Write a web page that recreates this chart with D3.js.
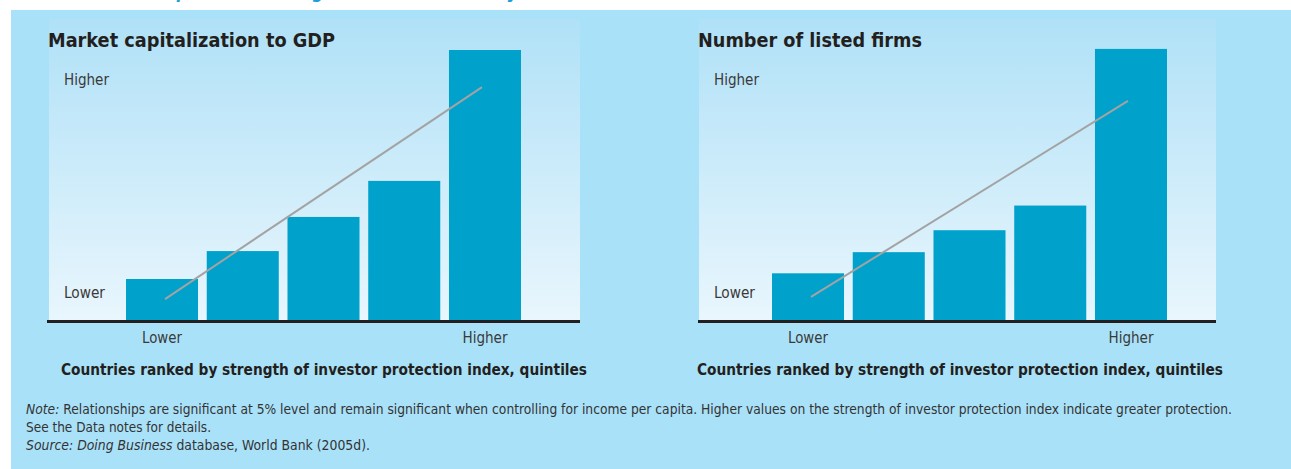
<!DOCTYPE html>
<html>
<head>
<meta charset="utf-8">
<script src="https://cdn.jsdelivr.net/npm/d3@7"></script>
<style>
  html, body { margin: 0; padding: 0; background: #ffffff; }
  svg { display: block; }
  text { font-family: "Liberation Sans Narrow", "DejaVu Sans Condensed", "Open Sans", sans-serif; }
</style>
</head>
<body>
<svg id="chart" width="1291" height="469"></svg>
<script>
// ---- data ----
const quintiles = ["Q1", "Q2", "Q3", "Q4", "Q5"];
const marketCapValues = [15.5, 25.8, 38.4, 51.7, 100];
const listedFirmsValues = [17.6, 25.4, 33.5, 42.6, 100.4];
const marketCapTrend = [8.1, 86.3];
const listedFirmsTrend = [8.9, 81.2];
const xTickLabels = ["Lower", "Higher"];
const yTickLabels = ["Lower", "Higher"];
const panelTitles = ["Market capitalization to GDP", "Number of listed firms"];
const axisTitle = "Countries ranked by strength of investor protection index, quintiles";
const figureTitle = "More investor protection\u2014larger markets and many more firms";

// ---- layout ----
const W = 1291, H = 469;
const svg = d3.select("#chart");
const defs = svg.append("defs");
const grad = defs.append("linearGradient").attr("id", "plotGrad")
  .attr("x1", 0).attr("y1", 0).attr("x2", 0).attr("y2", 1);
grad.append("stop").attr("offset", "0%").attr("stop-color", "#b0e1f7");
grad.append("stop").attr("offset", "100%").attr("stop-color", "#e9f6fd");

function fit(sel, w) {
  return sel.attr("textLength", w).attr("lengthAdjust", "spacingAndGlyphs");
}

svg.append("rect").attr("x", 0).attr("y", 0).attr("width", W).attr("height", H).attr("fill", "#ffffff");

// cut-off figure title (only descenders visible, as in the source)
fit(svg.append("text").attr("x", 44).attr("y", -2.5)
  .attr("font-size", 20).attr("font-weight", "bold").attr("font-style", "italic")
  .attr("fill", "#1a9fdc").text(figureTitle), 580);

svg.append("rect").attr("x", 11).attr("y", 10).attr("width", W - 11).attr("height", H - 10).attr("fill", "#a9e1f9");

const y = d3.scaleLinear().domain([0, 100]).range([321, 50]);

const panels = [
  { title: panelTitles[0], titleW: 287, values: marketCapValues, trend: marketCapTrend,
    inner: [49, 580], axis: [47, 580], bars: [126, 521], center: 324 },
  { title: panelTitles[1], titleW: 224, values: listedFirmsValues, trend: listedFirmsTrend,
    inner: [699, 1216], axis: [698, 1216], bars: [772, 1167], center: 960 }
];

panels.forEach(p => {
  const g = svg.append("g");
  g.append("rect").attr("x", p.inner[0]).attr("y", 19)
    .attr("width", p.inner[1] - p.inner[0]).attr("height", y(0) - 19)
    .attr("fill", "url(#plotGrad)");

  const x = d3.scaleBand().domain(quintiles).range(p.bars).paddingInner(0.108).paddingOuter(0);

  g.selectAll("rect.bar").data(p.values).join("rect").attr("class", "bar")
    .attr("x", (d, i) => x(quintiles[i]))
    .attr("y", d => y(d))
    .attr("width", x.bandwidth())
    .attr("height", d => y(0) - y(d))
    .attr("fill", "#00a1cb");

  // trend line
  const first = quintiles[0], last = quintiles[quintiles.length - 1];
  const tx = [x(first) + x.bandwidth() / 2 + 3, x(last) + x.bandwidth() / 2 - 3];
  g.append("line")
    .attr("x1", tx[0]).attr("y1", y(p.trend[0]))
    .attr("x2", tx[1]).attr("y2", y(p.trend[1]))
    .attr("stroke", "#a3a3a3").attr("stroke-width", 2);

  // x axis line
  g.append("line").attr("x1", p.axis[0]).attr("x2", p.axis[1])
    .attr("y1", y(0) + 0.5).attr("y2", y(0) + 0.5)
    .attr("stroke", "#231f20").attr("stroke-width", 3);

  // panel title
  fit(g.append("text").attr("x", p.inner[0] - 1).attr("y", 47)
    .attr("font-size", 20).attr("font-weight", "bold").attr("fill", "#231f20")
    .text(p.title), p.titleW);

  // y labels
  fit(g.append("text").attr("x", p.inner[0] + 15).attr("y", 85)
    .attr("font-size", 16).attr("fill", "#3a3a3a").text(yTickLabels[1]), 45);
  fit(g.append("text").attr("x", p.inner[0] + 15).attr("y", 298)
    .attr("font-size", 16).attr("fill", "#3a3a3a").text(yTickLabels[0]), 41);

  // x labels
  [first, last].forEach((q, i) => {
    fit(g.append("text").attr("x", x(q) + x.bandwidth() / 2).attr("y", 343)
      .attr("text-anchor", "middle").attr("font-size", 16).attr("fill", "#3a3a3a")
      .text(xTickLabels[i]), i === 0 ? 40 : 45);
  });

  // axis title
  fit(g.append("text").attr("x", p.center).attr("y", 375)
    .attr("text-anchor", "middle").attr("font-size", 16).attr("font-weight", "bold")
    .attr("fill", "#231f20").text(axisTitle), 526);
});

// notes
const notes = svg.append("g").attr("font-size", 14.5).attr("fill", "#333333");
const n1 = notes.append("text").attr("x", 26).attr("y", 413.5);
n1.append("tspan").attr("font-style", "italic").text("Note:");
n1.append("tspan").text(" Relationships are significant at 5% level and remain significant when controlling for income per capita. Higher values on the strength of investor protection index indicate greater protection.");
fit(n1, 1206);
fit(notes.append("text").attr("x", 26).attr("y", 431.5).text("See the Data notes for details."), 185);
const n3 = notes.append("text").attr("x", 26).attr("y", 449.5);
n3.append("tspan").attr("font-style", "italic").text("Source: Doing Business");
n3.append("tspan").text(" database, World Bank (2005d).");
fit(n3, 344);
</script>
</body>
</html>
